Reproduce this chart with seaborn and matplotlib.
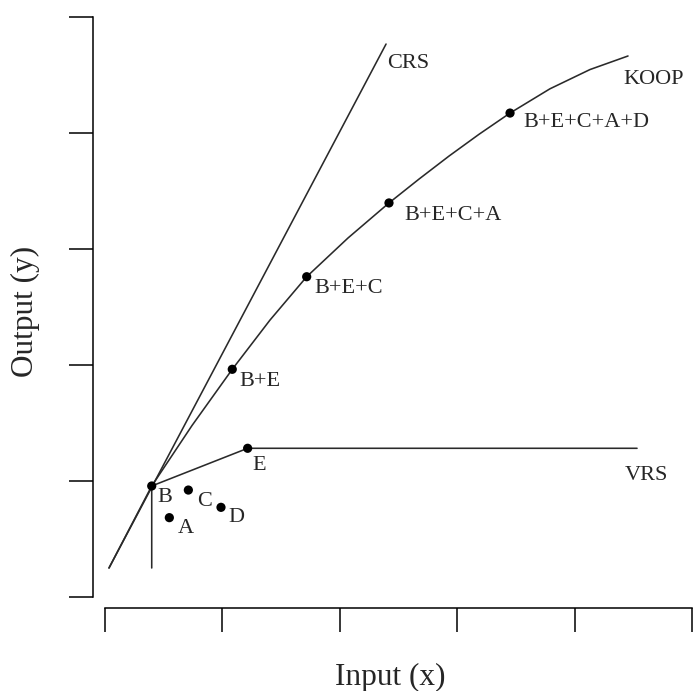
import matplotlib
matplotlib.use("Agg")
import matplotlib.pyplot as plt
import seaborn as sns
import pandas as pd

# ---- data ----
dmu_names = ["A", "B", "C", "D", "E"]
dmu_x = [0.548, 0.398, 0.710, 0.988, 1.215]
dmu_y = [0.684, 0.957, 0.922, 0.773, 1.282]

combo_names = ["B+E", "B+E+C", "B+E+C+A", "B+E+C+A+D"]
combo_x = [1.084, 1.718, 2.419, 3.450]
combo_y = [1.963, 2.761, 3.397, 4.172]

koop_x = [0.034, 0.398, 0.741, 1.084, 1.405, 1.718, 2.070, 2.419, 2.675, 2.930,
          3.186, 3.450, 3.790, 4.131, 4.455]
koop_y = [0.250, 0.957, 1.478, 1.963, 2.387, 2.761, 3.095, 3.397, 3.603, 3.801,
          3.989, 4.172, 4.381, 4.547, 4.664]

crs_x = [0.034, 2.394]
crs_y = [0.250, 4.767]

vrs_x = [0.398, 0.398, 1.215, 4.532]
vrs_y = [0.250, 0.957, 1.282, 1.282]

ticks = [0, 1, 2, 3, 4, 5]

# ---- style ----
sns.set_style("white")
plt.rcParams["font.family"] = ["Liberation Serif", "DejaVu Serif"]

W, H = 693, 691
fig = plt.figure(figsize=(W / 100, H / 100), dpi=100)
ax = fig.add_axes([93 / W, (H - 608) / H, 600 / W, 608 / H])
ax.set_xlim(-0.1022, 5.0085)
ax.set_ylim(-0.0948, 5.1466)

line_kw = dict(color="#2a2a2a", linewidth=1.15, sort=False, estimator=None, ax=ax)
sns.lineplot(x=crs_x, y=crs_y, **line_kw)
sns.lineplot(x=koop_x, y=koop_y, **line_kw)
sns.lineplot(x=vrs_x, y=vrs_y, **line_kw)

pts = pd.DataFrame({"x": dmu_x + combo_x, "y": dmu_y + combo_y})
sns.scatterplot(data=pts, x="x", y="y", color="black", s=44, edgecolor="none", ax=ax, zorder=5)

fs = 16
# label offsets in pixels (dx right, dy up) relative to the point
dmu_off = {"A": (8, -15), "B": (6, -16), "C": (9, -16), "D": (7, -15), "E": (5, -22)}
combo_off = {"B+E": (7, -17), "B+E+C": (8, -16), "B+E+C+A": (15, -17), "B+E+C+A+D": (13, -14)}
for n, x, y in zip(dmu_names, dmu_x, dmu_y):
    ax.annotate(n, (x, y), xytext=dmu_off[n], textcoords="offset pixels",
                ha="left", va="baseline", fontsize=fs)
for n, x, y in zip(combo_names, combo_x, combo_y):
    ax.annotate(n, (x, y), xytext=combo_off[n], textcoords="offset pixels",
                ha="left", va="baseline", fontsize=fs)

ax.annotate("CRS", (crs_x[-1], crs_y[-1]), xytext=(1, -24), textcoords="offset pixels",
            ha="left", va="baseline", fontsize=fs)
ax.annotate("KOOP", (koop_x[-1], koop_y[-1]), xytext=(-5, -28), textcoords="offset pixels",
            ha="left", va="baseline", fontsize=fs)
ax.annotate("VRS", (vrs_x[-1], vrs_y[-1]), xytext=(-12, -32), textcoords="offset pixels",
            ha="left", va="baseline", fontsize=fs)

# axes in R base-graphics style
for s in ["top", "right"]:
    ax.spines[s].set_visible(False)
for s in ["left", "bottom"]:
    ax.spines[s].set_visible(True)
    ax.spines[s].set_color("black")
    ax.spines[s].set_linewidth(1.1)
    ax.spines[s].set_bounds(0, 5)
ax.set_xticks(ticks)
ax.set_yticks(ticks)
ax.set_xticklabels([])
ax.set_yticklabels([])
ax.tick_params(axis="both", direction="out", length=17.5, width=1.1, color="black",
               bottom=True, left=True)
ax.set_xlabel("")
ax.set_ylabel("")
ax.grid(False)

fig.text(390 / W, (H - 685) / H, "Input (x)", ha="center", va="baseline", fontsize=22.5)
fig.text(33 / W, (H - 311) / H, "Output (y)", ha="center", va="baseline", fontsize=22.5,
         rotation=90, rotation_mode="anchor")

fig.savefig("out.png", dpi=100)
